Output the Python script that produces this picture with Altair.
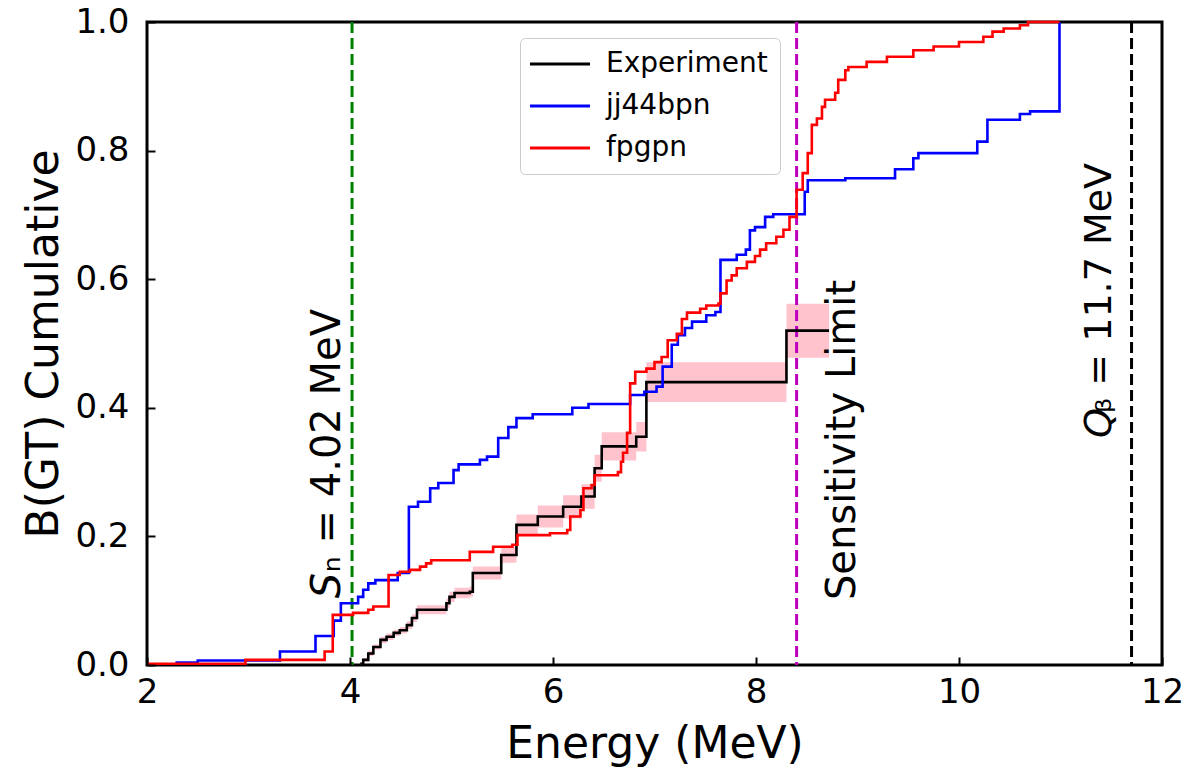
import altair as alt
import pandas as pd

# ---------------- data ----------------
series_names = ["Experiment", "jj44bpn", "fpgpn"]
series_colors = ["#000000", "#0000ff", "#ff0000"]

exp_E = [4.10, 4.13, 4.18, 4.23, 4.30, 4.36, 4.43, 4.49, 4.56, 4.61, 4.66, 4.95, 4.98, 5.03, 5.18,
         5.21, 5.49, 5.64, 5.85, 6.10, 6.28, 6.41, 6.48, 6.82, 6.92, 8.30, 8.72]
exp_B = [0.002, 0.008, 0.018, 0.028, 0.039, 0.044, 0.050, 0.054, 0.062, 0.073, 0.086, 0.096, 0.106, 0.112, 0.114,
         0.143, 0.171, 0.218, 0.231, 0.246, 0.262, 0.306, 0.340, 0.355, 0.440, 0.520, 0.520]
exp_err = [0.002, 0.003, 0.004, 0.004, 0.005, 0.005, 0.005, 0.005, 0.006, 0.006, 0.007, 0.007, 0.008, 0.008, 0.008,
           0.010, 0.012, 0.016, 0.017, 0.018, 0.019, 0.021, 0.022, 0.023, 0.031, 0.042, 0.042]

jj_E = [2.28, 2.50, 3.31, 3.66, 3.84, 3.91, 4.08, 4.13, 4.18, 4.25, 4.47, 4.58, 4.67, 4.79, 4.87, 5.02, 5.07,
        5.28, 5.35, 5.46, 5.56, 5.64, 5.80, 6.19, 6.35, 6.76, 6.90, 7.02, 7.08, 7.17, 7.23, 7.30, 7.37, 7.51,
        7.60, 7.65, 7.81, 7.90, 7.94, 7.99, 8.09, 8.17, 8.48, 8.51, 8.88, 9.37, 9.55, 9.60, 10.18, 10.28,
        10.60, 10.70, 10.99]
jj_B = [0.004, 0.007, 0.021, 0.045, 0.069, 0.096, 0.106, 0.117, 0.127, 0.132, 0.143, 0.246, 0.254, 0.275, 0.283,
        0.303, 0.312, 0.319, 0.324, 0.353, 0.370, 0.384, 0.390, 0.400, 0.406, 0.420, 0.425, 0.433, 0.464, 0.498,
        0.513, 0.524, 0.534, 0.544, 0.549, 0.630, 0.638, 0.646, 0.676, 0.681, 0.697, 0.701, 0.736, 0.754, 0.757,
        0.771, 0.788, 0.796, 0.814, 0.848, 0.857, 0.861, 1.000]

fp_E = [2.00, 2.97, 3.75, 3.83, 4.03, 4.18, 4.23, 4.38, 4.49, 4.59, 4.69, 4.75, 4.80, 5.18, 5.41, 5.60, 5.65,
        5.97, 6.14, 6.17, 6.27, 6.30, 6.38, 6.41, 6.64, 6.67, 6.69, 6.73, 6.76, 6.81, 6.92, 7.00, 7.07, 7.13,
        7.22, 7.27, 7.32, 7.45, 7.51, 7.63, 7.65, 7.71, 7.76, 7.81, 7.91, 7.99, 8.04, 8.10, 8.20, 8.27, 8.33,
        8.40, 8.46, 8.51, 8.55, 8.60, 8.65, 8.68, 8.78, 8.81, 8.88, 8.91, 9.09, 9.29, 9.55, 9.75, 10.00, 10.24,
        10.33, 10.44, 10.60, 10.68, 10.99]
fp_B = [0.002, 0.008, 0.021, 0.078, 0.081, 0.086, 0.091, 0.140, 0.145, 0.148, 0.153, 0.158, 0.163, 0.176, 0.184,
        0.187, 0.202, 0.205, 0.210, 0.231, 0.241, 0.275, 0.280, 0.295, 0.300, 0.316, 0.330, 0.361, 0.438, 0.456,
        0.461, 0.471, 0.479, 0.505, 0.515, 0.538, 0.548, 0.554, 0.559, 0.562, 0.578, 0.598, 0.606, 0.617, 0.627,
        0.636, 0.646, 0.656, 0.666, 0.677, 0.697, 0.739, 0.765, 0.796, 0.840, 0.850, 0.868, 0.879, 0.890, 0.910,
        0.925, 0.930, 0.938, 0.946, 0.956, 0.962, 0.969, 0.977, 0.985, 0.990, 0.995, 1.000, 1.000]

vline_E = [4.02, 8.4, 11.7]
vline_colors = ["#008000", "#bf00bf", "#000000"]

x_ticks = [2, 4, 6, 8, 10, 12]
y_ticks = [0.0, 0.2, 0.4, 0.6, 0.8, 1.0]

# annotation texts (rotated)
ann_main = ["S", "Q"]
ann_rest = ["\u2099 = 4.02 MeV", "\u1d66 = 11.7 MeV"]
ann_E = [3.90, 11.50]
ann_B = [0.104, 0.353]
ann_size = [40, 38]
sens_text = ["Sensitivity Limit"]
sens_E = [8.975]
sens_B = [0.101]

# ---------------- tables ----------------
lines_df = pd.concat([
    pd.DataFrame({"E": exp_E, "B": exp_B, "series": "Experiment"}),
    pd.DataFrame({"E": jj_E, "B": jj_B, "series": "jj44bpn"}),
    pd.DataFrame({"E": fp_E, "B": fp_B, "series": "fpgpn"}),
], ignore_index=True)

band_df = pd.DataFrame({
    "E": exp_E,
    "lo": [b - e for b, e in zip(exp_B, exp_err)],
    "hi": [b + e for b, e in zip(exp_B, exp_err)],
})

FONT = "DejaVu Sans"
W, H = 1015, 643

xscale = alt.Scale(domain=[2, 12], nice=False, zero=False)
yscale = alt.Scale(domain=[0, 1], nice=False, zero=False)

x_axis = alt.Axis(values=x_ticks, format="d", title="Energy (MeV)", grid=False, domain=False,
                  ticks=True, tickSize=8, tickWidth=2, tickColor="black", offset=-8,
                  labelFontSize=34, labelFont=FONT, labelColor="black", labelPadding=10,
                  labelFlush=False, labelOverlap=False, labelBound=False,
                  titleFontSize=44, titleFont=FONT, titleFontWeight="normal", titleColor="black",
                  titleBaseline="alphabetic", titleY=100, titleX=W / 2, zindex=1)
y_axis = alt.Axis(values=y_ticks, format=".1f", title="B(GT) Cumulative", grid=False, domain=False,
                  ticks=True, tickSize=8, tickWidth=2, tickColor="black", offset=-8,
                  labelFontSize=34, labelFont=FONT, labelColor="black", labelPadding=18,
                  labelFlush=False, labelOverlap=False, labelBound=False,
                  titleFontSize=44, titleFont=FONT, titleFontWeight="normal", titleColor="black",
                  titleAngle=270, titleBaseline="alphabetic", titleAlign="center",
                  titleX=-98, titleY=H / 2, zindex=1)

band = alt.Chart(band_df).mark_area(interpolate="step-after", color="#ffc0cb", opacity=0.95).encode(
    x=alt.X("E:Q", scale=xscale, axis=x_axis),
    y=alt.Y("lo:Q", scale=yscale, axis=y_axis),
    y2="hi:Q",
)

color_enc = alt.Color("series:N", scale=alt.Scale(domain=series_names, range=series_colors),
                      legend=alt.Legend(title=None, orient="none", legendX=373, legendY=16,
                                        symbolType="M-3,0L3,0", symbolSize=400, symbolStrokeWidth=3,
                                        symbolOffset=14,
                                        labelFontSize=28, labelFont=FONT, labelColor="black",
                                        labelOffset=32, labelLimit=400, rowPadding=14, padding=12,
                                        strokeColor="#cccccc", fillColor="white", cornerRadius=5))

line_layers = []
for name in series_names:
    line_layers.append(
        alt.Chart(lines_df).transform_filter(alt.datum.series == name)
        .mark_line(interpolate="step-after", strokeWidth=2.6)
        .encode(x=alt.X("E:Q", scale=xscale), y=alt.Y("B:Q", scale=yscale), color=color_enc)
    )

vlines = []
for e, c in zip(vline_E, vline_colors):
    vlines.append(
        alt.Chart(pd.DataFrame({"E": [e]})).mark_rule(color=c, strokeWidth=3, strokeDash=[11, 5])
        .encode(x=alt.X("E:Q", scale=xscale))
    )

ann_layers = []
for m, r, e, b, s in zip(ann_main, ann_rest, ann_E, ann_B, ann_size):
    d = pd.DataFrame({"E": [e], "B": [b], "main": [m], "rest": [r]})
    ann_layers.append(alt.Chart(d).mark_text(angle=270, align="left", baseline="alphabetic",
                                             fontSize=s, font=FONT, fontStyle="italic", color="black").encode(
        x=alt.X("E:Q", scale=xscale), y=alt.Y("B:Q", scale=yscale), text="main:N"))
    ann_layers.append(alt.Chart(d).mark_text(angle=270, align="left", baseline="alphabetic",
                                             dx=round(s * 0.66), fontSize=s, font=FONT, color="black").encode(
        x=alt.X("E:Q", scale=xscale), y=alt.Y("B:Q", scale=yscale), text="rest:N"))

sens_layer = alt.Chart(pd.DataFrame({"E": sens_E, "B": sens_B, "t": sens_text})).mark_text(
    angle=270, align="left", baseline="alphabetic", fontSize=40, font=FONT, color="black").encode(
    x=alt.X("E:Q", scale=xscale), y=alt.Y("B:Q", scale=yscale), text="t:N")

chart = alt.layer(band, *vlines, *line_layers, *ann_layers, sens_layer).properties(
    width=W, height=H,
    autosize=alt.AutoSizeParams(type="none"),
    padding={"left": 147, "top": 22, "right": 24, "bottom": 103},
).configure(font=FONT, background="white",
            view=alt.ViewConfig(stroke="black", strokeWidth=3))

chart.save("out.html", embed_options={"renderer": "svg", "actions": False})
